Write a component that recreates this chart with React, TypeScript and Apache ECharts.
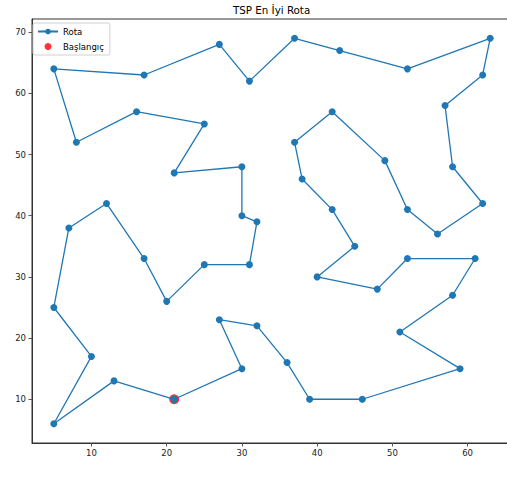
import React, { useEffect, useRef } from "react";
import * as echarts from "echarts";

const routeX = [21, 13, 5, 10, 5, 7, 12, 17, 20, 25, 31, 32, 30, 30, 21, 25, 16, 8, 5, 17, 27, 31, 37, 43, 52, 63, 62, 57, 58, 62, 56, 52, 49, 42, 37, 38, 42, 45, 40, 48, 52, 61, 58, 51, 59, 46, 39, 36, 32, 27, 30, 21];
const routeY = [10, 13, 6, 17, 25, 38, 42, 33, 26, 32, 32, 39, 40, 48, 47, 55, 57, 52, 64, 63, 68, 62, 69, 67, 64, 69, 63, 58, 48, 42, 37, 41, 49, 57, 52, 46, 41, 35, 30, 28, 33, 33, 27, 21, 15, 10, 10, 16, 22, 23, 15, 10];
const startPoint = [21, 10];
const xTicks = [10, 20, 30, 40, 50, 60];
const yTicks = [10, 20, 30, 40, 50, 60, 70];
const titleText = "TSP En İyi Rota";
const routeName = "Rota";
const startName = "Başlangıç";

const FONT = "DejaVu Sans";

export default function App() {
  const ref = useRef<HTMLDivElement>(null);
  useEffect(() => {
    document.body.style.margin = "0";
    const chart = echarts.init(ref.current!, null, { renderer: "svg" });
    const routeData = routeX.map((x, i) => [x, routeY[i]]);
    const axisCommon = {
      type: "value",
      splitLine: { show: false },
      axisLine: { show: true, lineStyle: { color: "#333", width: 1 } },
      axisTick: { show: true, length: 3.5, lineStyle: { color: "#555", width: 1 } },
      axisLabel: { fontSize: 8.5, color: "#222", fontFamily: FONT },
    };
    chart.setOption({
      animation: false,
      backgroundColor: "#fff",
      title: {
        text: titleText,
        left: 233,
        top: 4.5,
        padding: 0,
        textStyle: { fontSize: 10.3, fontWeight: "normal", color: "#000", fontFamily: FONT },
      },
      grid: {
        left: 32,
        top: 19,
        width: 480,
        bottom: 43,
        show: true,
        borderColor: "#333",
        borderWidth: 1,
        containLabel: false,
        outerBoundsMode: "none",
      },
      legend: {
        orient: "vertical",
        left: 33,
        top: 23,
        data: [
          { name: routeName, itemStyle: { borderWidth: 0 } },
          { name: startName },
        ],
        backgroundColor: "#fff",
        borderColor: "#d0d0d0",
        borderWidth: 1,
        borderRadius: 2,
        padding: [4, 6, 4, 4],
        itemWidth: 20,
        itemHeight: 7,
        itemGap: 6,
        textStyle: { fontSize: 8.5, color: "#000", fontFamily: FONT },
      },
      xAxis: {
        ...axisCommon,
        min: 2.1,
        max: 65.9,
        axisTick: { ...axisCommon.axisTick, customValues: xTicks },
        axisLabel: { ...axisCommon.axisLabel, margin: 5, customValues: xTicks },
      },
      yAxis: {
        ...axisCommon,
        min: 2.85,
        max: 72.15,
        axisTick: { ...axisCommon.axisTick, customValues: yTicks },
        axisLabel: { ...axisCommon.axisLabel, margin: 6, customValues: yTicks },
      },
      series: [
        {
          name: routeName,
          type: "line",
          data: routeData,
          symbol: "circle",
          symbolSize: 7,
          showAllSymbol: true,
          itemStyle: { color: "#1f77b4" },
          lineStyle: { color: "#1f77b4", width: 1.3 },
          z: 3,
        },
        {
          name: startName,
          type: "scatter",
          data: [startPoint],
          symbol: "circle",
          symbolSize: 10,
          itemStyle: { color: "#ff0000" },
          z: 2,
        },
      ],
    });
    return () => chart.dispose();
  }, []);
  return <div ref={ref} style={{ position: "absolute", left: 0, top: 0, width: 507, height: 486 }} />;
}
